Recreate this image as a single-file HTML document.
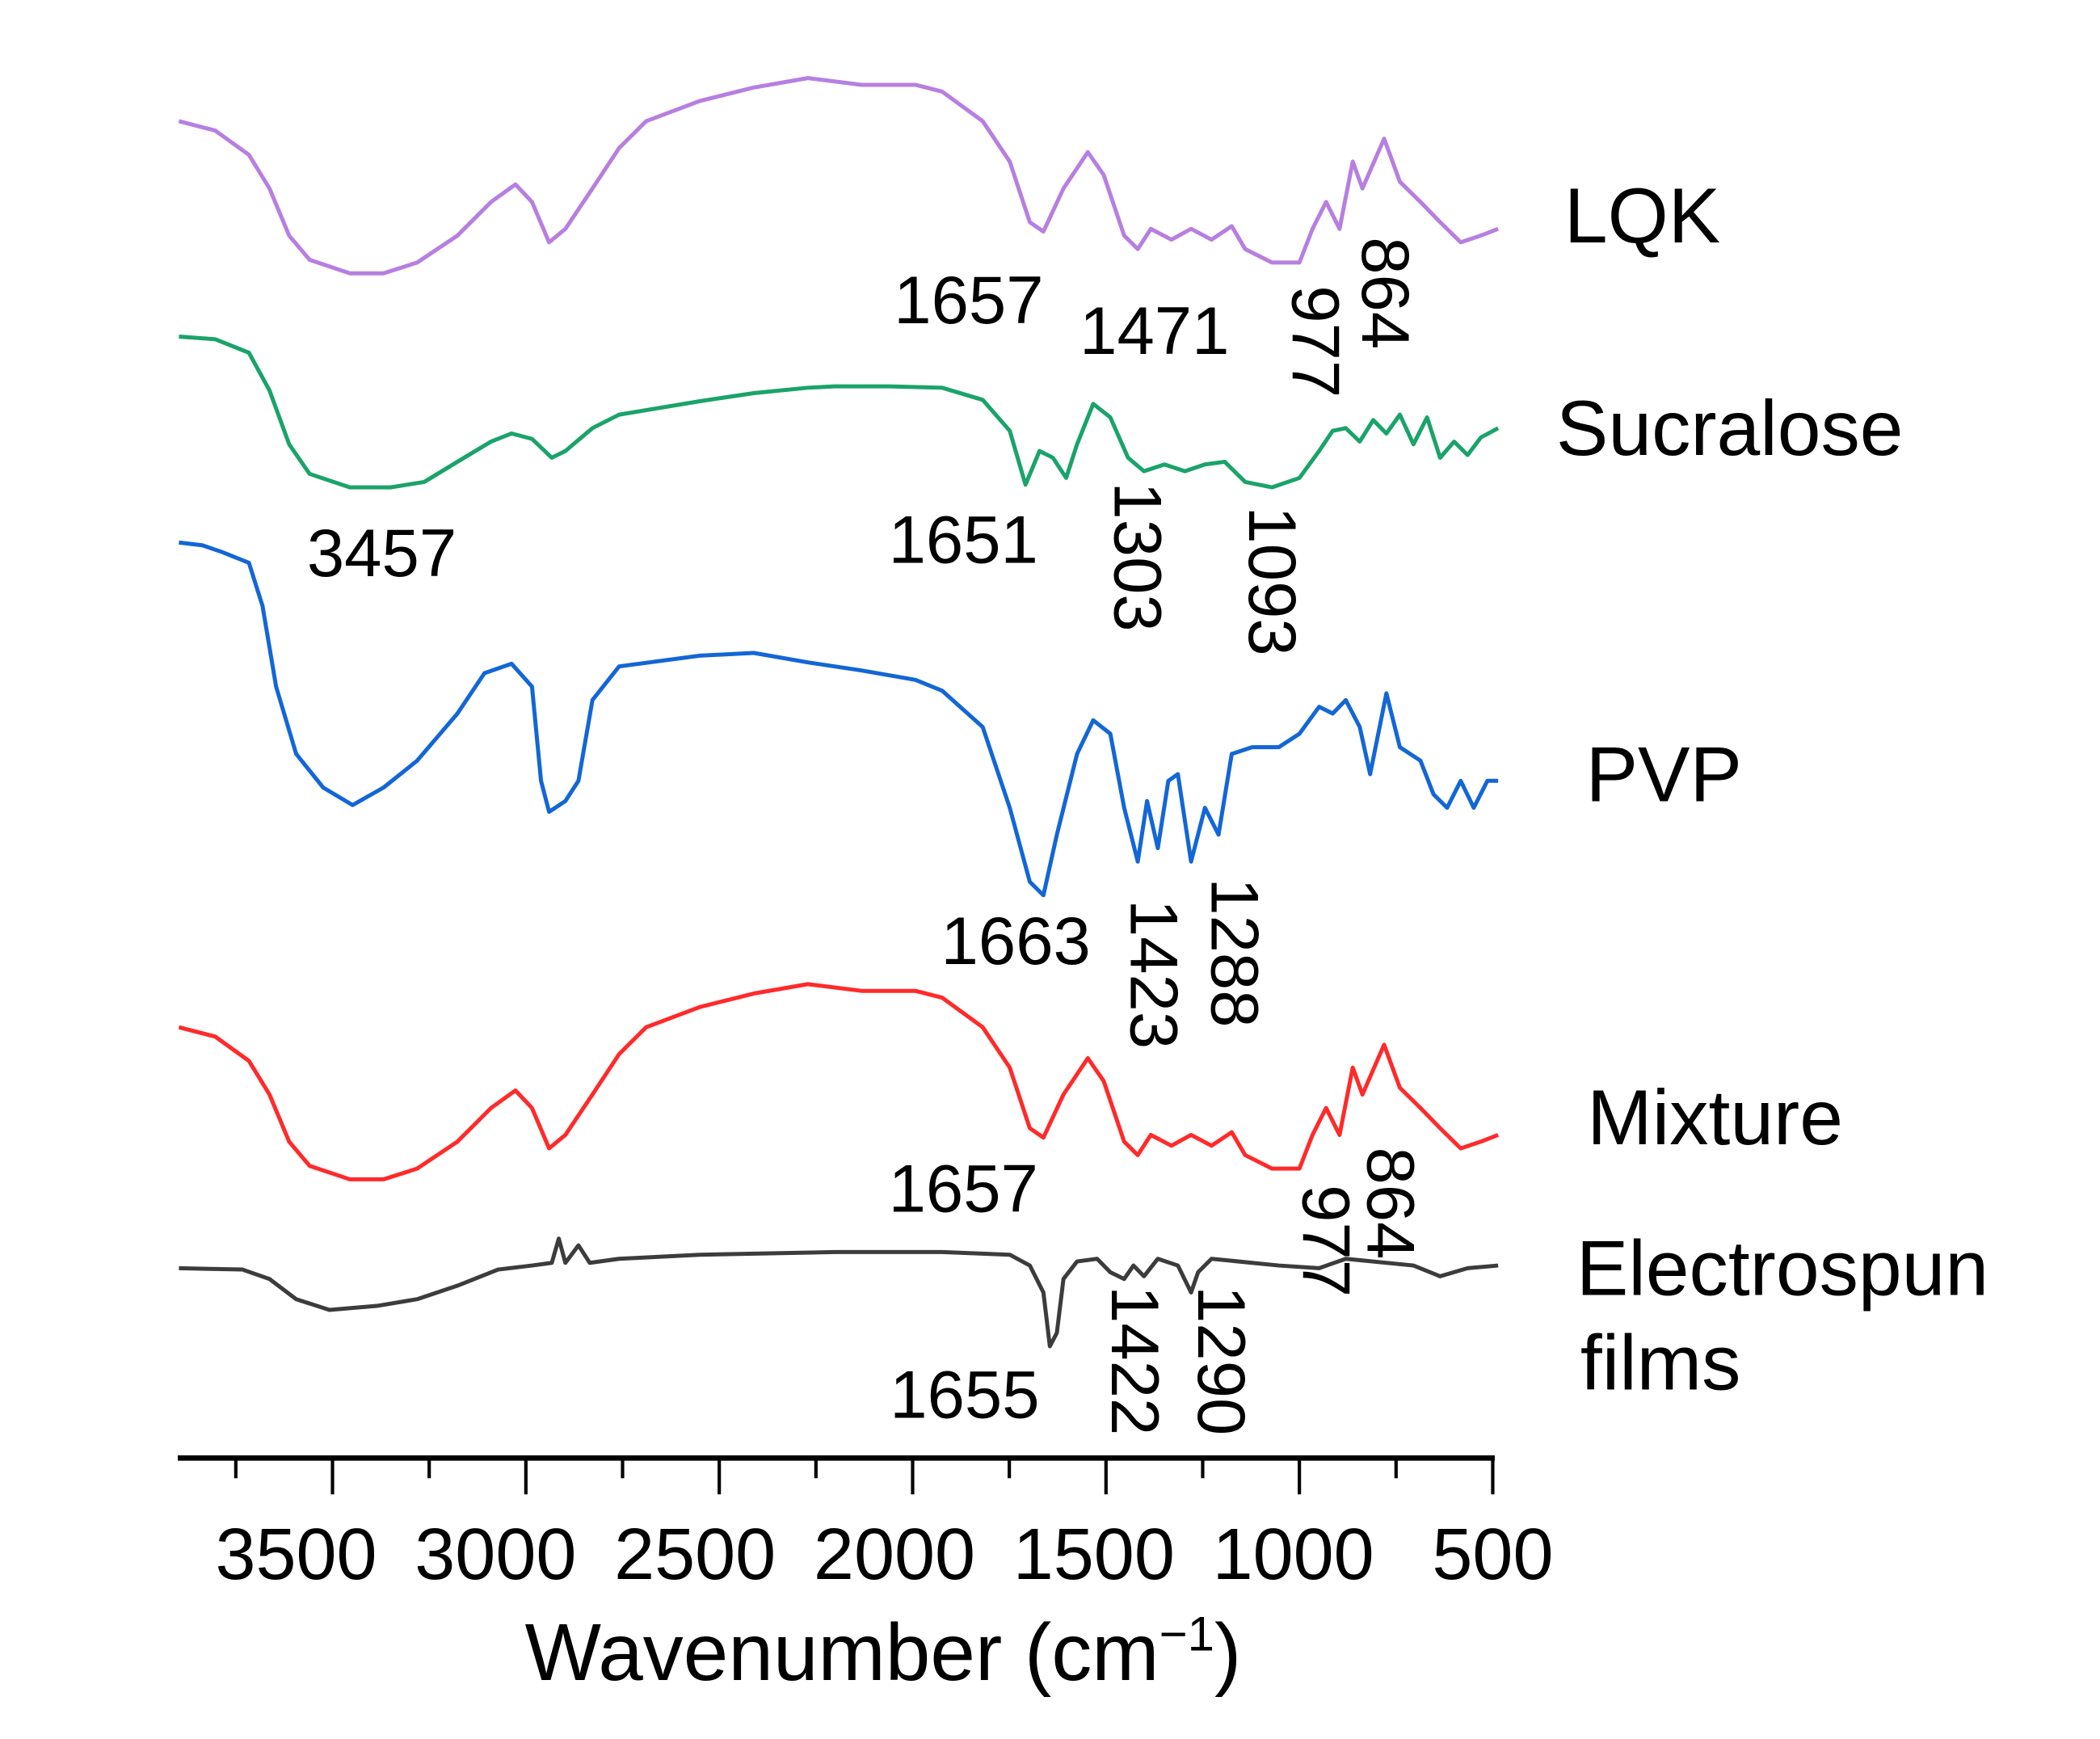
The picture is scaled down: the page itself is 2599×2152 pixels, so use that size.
<!DOCTYPE html>
<html><head><meta charset="utf-8"><style>
html,body{margin:0;padding:0;background:#fff;}
svg{display:block;}
text{font-family:"Liberation Sans",Arial,sans-serif;fill:#000;}
</style></head><body>
<svg id="chart" width="2599" height="2152" viewBox="0 0 1560 1291.7" xmlns="http://www.w3.org/2000/svg">
<rect width="1560" height="1291.7" fill="#fff"/>
<g id="series"></g>
<g id="axis"></g>
</svg>
<script>
const lqkW=[3897,3803,3716,3663,3612,3559,3455,3368,3281,3177,3090,3027,2984,2940,2898,2828,2759,2689,2550,2411,2271,2132,1993,1924,1819,1749,1697,1662,1610,1547,1506,1453,1418,1384,1331,1280,1227,1175,1140,1071,1000,966,931,896,862,837,781,740,687,636,583,531,486];
const lqkV=[993,986,968,943,908,890,880,880,888,908,933,946,933,903,913,943,973,993,1008,1018,1025,1020,1020,1015,993,963,918,911,943,970,953,908,898,913,905,913,905,915,898,888,888,913,933,913,963,943,980,948,933,918,903,908,913];
const mixW=[3897,3803,3716,3663,3612,3559,3455,3368,3281,3177,3090,3027,2984,2940,2898,2828,2759,2689,2550,2411,2271,2132,1993,1924,1819,1749,1697,1662,1610,1547,1506,1453,1418,1384,1331,1280,1227,1175,1140,1071,1000,966,931,896,862,837,781,740,687,636,583,531,486];
const mixV=[320,313,295,270,235,217,207,207,215,235,260,273,260,230,240,270,300,320,335,345,352,347,347,342,320,290,245,238,270,297,280,235,225,240,232,240,232,242,225,215,215,240,260,240,290,270,307,275,260,245,230,235,240];
const sucW=[3897,3803,3716,3663,3612,3559,3455,3350,3263,3177,3090,3037,2984,2933,2898,2828,2759,2550,2411,2271,2202,2062,1924,1819,1749,1708,1672,1637,1603,1575,1533,1489,1443,1402,1349,1296,1244,1193,1140,1071,1000,949,914,880,844,809,775,740,705,670,636,600,565,531,486];
const sucV=[833,831,821,793,753,731,721,721,725,740,755,761,757,743,748,765,775,785,791,795,796,796,795,786,763,723,748,743,728,753,783,773,743,733,738,733,738,740,725,721,728,748,763,765,755,771,761,775,753,773,743,755,745,758,765];
const pvpW=[3897,3837,3786,3716,3681,3646,3594,3524,3448,3368,3281,3177,3107,3037,2984,2961,2940,2898,2864,2828,2759,2550,2411,2271,2132,1993,1924,1819,1749,1697,1662,1627,1575,1533,1489,1453,1418,1394,1366,1339,1314,1280,1244,1209,1175,1122,1053,1000,949,914,880,844,817,775,740,687,653,618,583,549,514,486];
const pvpV=[680,678,673,665,633,573,523,498,485,498,518,553,583,590,573,503,480,488,503,563,588,596,598,591,585,578,570,543,483,428,418,463,523,548,538,483,443,488,453,503,508,443,483,463,523,528,528,538,558,553,563,543,508,568,528,518,493,483,503,483,503,503];
const elW=[3897,3733,3663,3594,3508,3385,3281,3177,3072,2984,2933,2915,2898,2864,2835,2759,2550,2202,1924,1749,1697,1662,1645,1627,1610,1575,1523,1489,1453,1429,1402,1366,1314,1280,1262,1227,1053,949,880,705,636,565,486];
const elV=[141,140,133,118,110,113,118,128,140,143,145,163,145,158,145,148,151,153,153,151,143,123,83,93,133,146,148,138,133,143,135,148,143,123,138,148,143,141,148,143,135,141,143];
const tickValues=[3750,3500,3250,3000,2750,2500,2250,2000,1750,1500,1250,1000,750,500];
const tickLabels=["3500","3000","2500","2000","1500","1000","500"];
const tickLabelValues=[3500,3000,2500,2000,1500,1000,500];

const NS="http://www.w3.org/2000/svg";
function x(w){return 247+(3500-w)*0.2873;}
function y(v){return 1083-v;}
function mk(tag,attrs,parent){const e=document.createElementNS(NS,tag);for(const k in attrs)e.setAttribute(k,attrs[k]);parent.appendChild(e);return e;}

const sg=document.getElementById('series');
function line(W,V,color,name){
  const d=W.map((w,i)=>(i?'L':'M')+x(w).toFixed(1)+','+y(V[i]).toFixed(1)).join(' ');
  const p=mk('path',{d:d,fill:'none',stroke:color,'stroke-width':3,'stroke-linejoin':'round'},sg);
  
  
}
line(lqkW,lqkV,'#b77fe0','lqk-spectrum');
line(sucW,sucV,'#1aa36a','sucralose-spectrum');
line(pvpW,pvpV,'#1366d6','pvp-spectrum');
line(mixW,mixV,'#ff2a2a','mixture-spectrum');
line(elW,elV,'#3c3c3c','electrospun-films-spectrum');

const ag=document.getElementById('axis');
const al=mk('line',{x1:x(3900),y1:1083,x2:x(500)+1.5,y2:1083,stroke:'#000','stroke-width':4},ag);


tickValues.forEach(t=>{
  const major=(t%500===0);
  const tk=mk('line',{x1:x(t),y1:1083,x2:x(t),y2:1083+(major?27:15),stroke:'#000','stroke-width':2.5},ag);
  
  
});
tickLabelValues.forEach((t,i)=>{
  const tl=mk('text',{x:x(t)-9*(t-500)/1000,y:1173,'font-size':54,'text-anchor':'middle'},ag);
  tl.textContent=tickLabels[i];
  
  
});
</script>
<svg style="position:absolute;left:0;top:0" width="2599" height="2152" viewBox="0 0 1560 1291.7" xmlns="http://www.w3.org/2000/svg">
<text x="656" y="1248" font-size="60" text-anchor="middle">Wavenumber (cm<tspan font-size="36" dy="-22">−1</tspan><tspan dy="22">)</tspan></text>
<g font-size="58">
<text x="1162" y="180">LQK</text>
<text x="1156" y="338">Sucralose</text>
<text x="1178" y="595">PVP</text>
<text x="1179" y="850">Mixture</text>
<text x="1171" y="962">Electrospun</text>
<text x="1174" y="1032">films</text>
</g>
<g font-size="50">
<text x="664" y="240">1657</text>
<text x="802" y="263">1471</text>
<text transform="translate(960,212) rotate(90)">977</text>
<text transform="translate(1012,176) rotate(90)">864</text>
<text x="228" y="428">3457</text>
<text x="660" y="418">1651</text>
<text transform="translate(828,358) rotate(90)">1303</text>
<text transform="translate(928,376) rotate(90)">1093</text>
<text x="699" y="716">1663</text>
<text transform="translate(840,668) rotate(90)">1423</text>
<text transform="translate(900,652) rotate(90)">1288</text>
<text x="660" y="900">1657</text>
<text transform="translate(968,880) rotate(90)">977</text>
<text transform="translate(1016,852) rotate(90)">864</text>
<text x="661" y="1053">1655</text>
<text transform="translate(826,955) rotate(90)">1422</text>
<text transform="translate(890,955) rotate(90)">1290</text>
</g>
</svg>
</body></html>
